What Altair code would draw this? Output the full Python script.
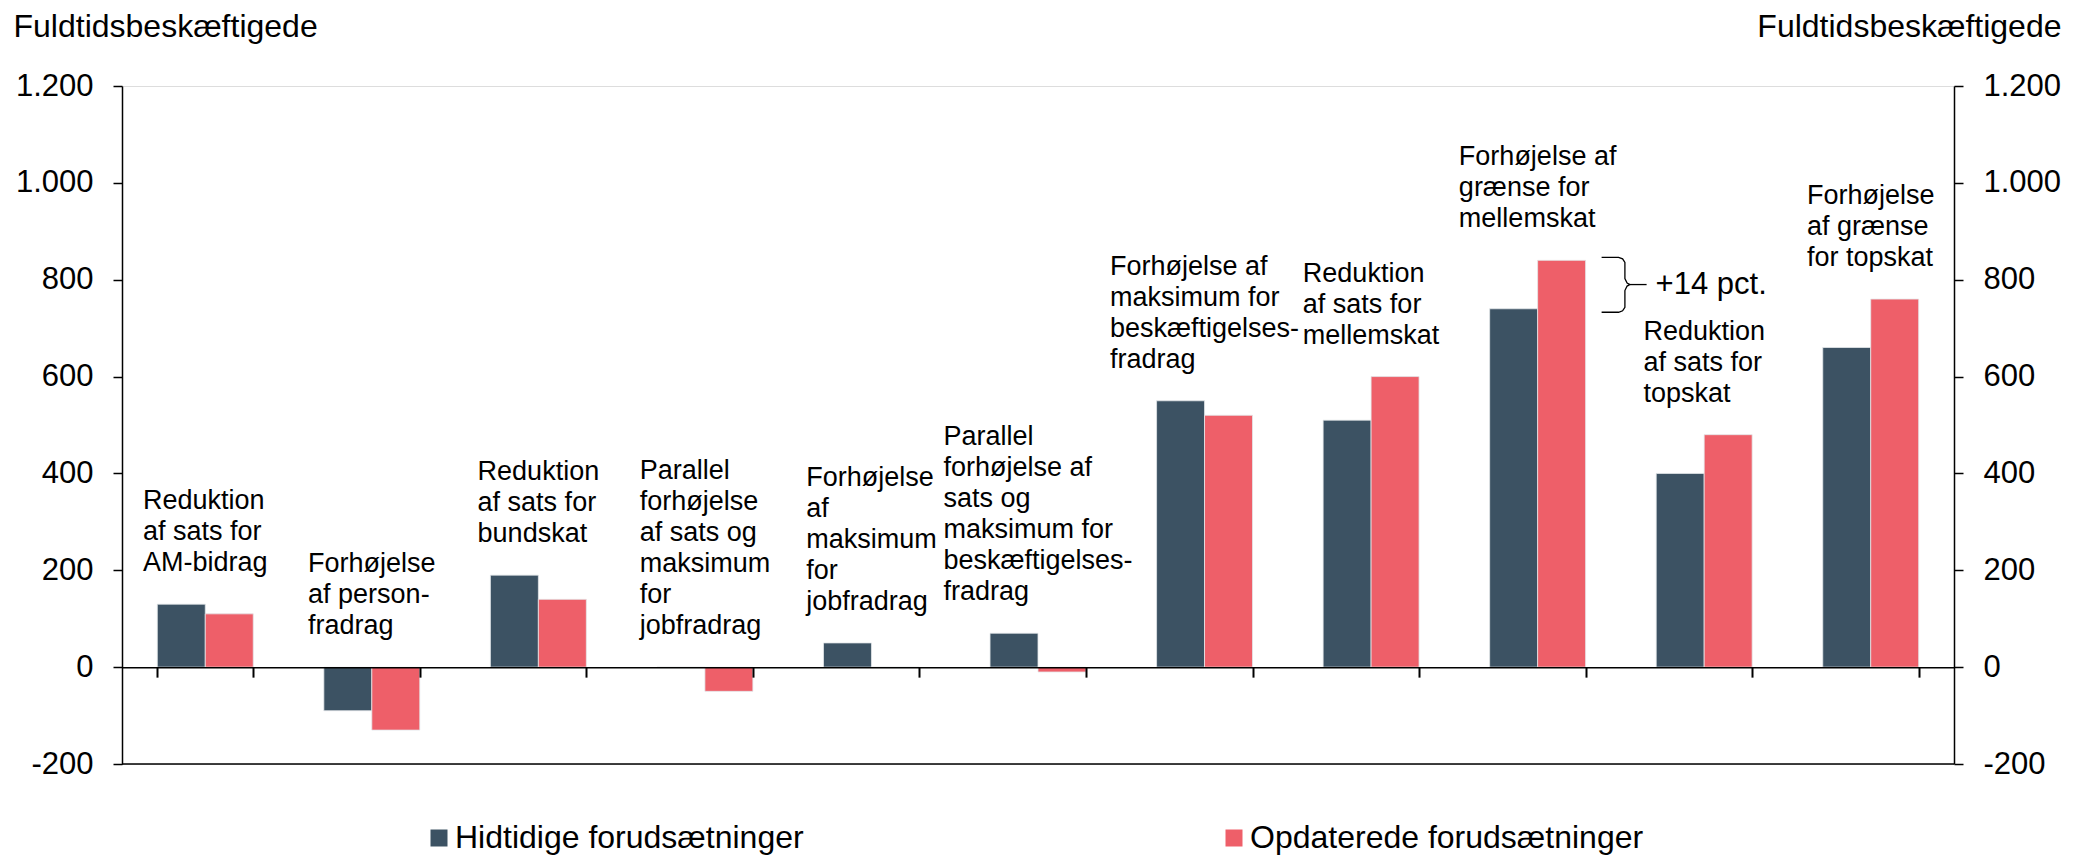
import altair as alt
import pandas as pd

# ---------------- data ----------------
categories = [
    "Reduktion af sats for AM-bidrag",
    "Forhøjelse af personfradrag",
    "Reduktion af sats for bundskat",
    "Parallel forhøjelse af sats og maksimum for jobfradrag",
    "Forhøjelse af maksimum for jobfradrag",
    "Parallel forhøjelse af sats og maksimum for beskæftigelsesfradrag",
    "Forhøjelse af maksimum for beskæftigelsesfradrag",
    "Reduktion af sats for mellemskat",
    "Forhøjelse af grænse for mellemskat",
    "Reduktion af sats for topskat",
    "Forhøjelse af grænse for topskat",
]
label_lines = [
    ["Reduktion", "af sats for", "AM-bidrag"],
    ["Forhøjelse", "af person-", "fradrag"],
    ["Reduktion", "af sats for", "bundskat"],
    ["Parallel", "forhøjelse", "af sats og", "maksimum", "for", "jobfradrag"],
    ["Forhøjelse", "af", "maksimum", "for", "jobfradrag"],
    ["Parallel", "forhøjelse af", "sats og", "maksimum for", "beskæftigelses-", "fradrag"],
    ["Forhøjelse af", "maksimum for", "beskæftigelses-", "fradrag"],
    ["Reduktion", "af sats for", "mellemskat"],
    ["Forhøjelse af", "grænse for", "mellemskat"],
    ["Reduktion", "af sats for", "topskat"],
    ["Forhøjelse", "af grænse", "for topskat"],
]
series_names = ["Hidtidige forudsætninger", "Opdaterede forudsætninger"]
hidtidige = [130, -90, 190, 0, 50, 70, 550, 510, 740, 400, 660]
opdaterede = [110, -130, 140, -50, 0, -10, 520, 600, 840, 480, 760]
y_ticks = [-200, 0, 200, 400, 600, 800, 1000, 1200]
axis_title = "Fuldtidsbeskæftigede"

# ---------------- layout / style ----------------
W, H = 1832, 678
PAD = {"left": 114, "top": 78, "right": 120, "bottom": 91}
Y_MIN, Y_MAX = -200, 1200
DARK, PINK = "#3c5263", "#ee5f69"
FONT = "Liberation Sans"
P_INNER = 0.424
ANN_FS, ANN_LH = 27, 31

n = len(categories)
step = W / n
px_per_unit = H / (Y_MAX - Y_MIN)


def ux(px):
    return px / step


def uy(px):
    return px / px_per_unit


# Arial/Liberation Sans advance widths (1/1000 em) to centre the label blocks
CW = {" ": 278, "-": 333, ".": 278, "A": 667, "M": 833, "F": 611, "R": 722, "P": 667,
      "a": 556, "b": 556, "c": 500, "d": 556, "e": 556, "f": 278, "g": 556, "h": 556,
      "i": 222, "j": 222, "k": 500, "l": 222, "m": 833, "n": 556, "o": 556, "p": 556,
      "r": 333, "s": 500, "t": 278, "u": 556, "v": 500, "æ": 889, "ø": 611}


def text_w(s, fs):
    return sum(CW.get(c, 556) for c in s) / 1000 * fs


rows = []
for c, h, o in zip(categories, hidtidige, opdaterede):
    rows.append({"cat": c, "series": series_names[0], "value": h})
    rows.append({"cat": c, "series": series_names[1], "value": o})
bars_df = pd.DataFrame(rows)

# label block: centred on its category, last line a fixed gap above the bars
ann_df = pd.DataFrame({
    "lines": label_lines,
    "lx": [i + 0.5 - ux(max(text_w(s, ANN_FS) for s in ls) / 2)
           for i, ls in enumerate(label_lines)],
    "ly": [max(0, h, o) + uy((len(ls) - 1) * ANN_LH)
           for h, o, ls in zip(hidtidige, opdaterede, label_lines)],
})

# bracket annotation on the largest updated bar
k = max(range(n), key=lambda i: opdaterede[i])
edge = k + 0.5 + (1 - P_INNER) / 2
top = opdaterede[k] + uy(3)
bot = hidtidige[k] - uy(3.5)
mid = (opdaterede[k] + hidtidige[k]) / 2
brace_pts = [(16, top), (33, top), (37, top - uy(1.5)), (39.3, top - uy(5)),
             (39.3, mid + uy(6)), (41.5, mid + uy(1.5)), (44.3, mid),
             (41.5, mid - uy(1.5)), (39.3, mid - uy(6)), (39.3, bot + uy(5)),
             (37, bot + uy(1.5)), (33, bot), (16, bot)]
brace_rows = [{"part": "brace", "o": j, "bx": edge + ux(px), "by": yv}
              for j, (px, yv) in enumerate(brace_pts)]
brace_rows += [{"part": "link", "o": 0, "bx": edge + ux(44.3), "by": mid},
               {"part": "link", "o": 1, "bx": edge + ux(61), "by": mid}]
brace_df = pd.DataFrame(brace_rows)
pct = round((opdaterede[k] / hidtidige[k] - 1) * 100)
pct_df = pd.DataFrame({"bx": [edge + ux(70)], "by": [mid], "t": [f"+{pct} pct."]})

# ---------------- scales ----------------
yscale = alt.Scale(domain=[Y_MIN, Y_MAX], nice=False, zero=False)
lin_x = alt.Scale(domain=[0, n], nice=False, zero=False)
label_expr = ("(datum.value < 0 ? '-' : '') + "
              "replace(format(abs(datum.value), ','), ',', '.')")
zero_offset = H * (Y_MAX - 0) / (Y_MAX - Y_MIN) - H

common_y_axis = dict(values=y_ticks, labelExpr=label_expr, grid=False, tickSize=9,
                     tickWidth=1.5, tickColor="black", domainColor="black",
                     domainWidth=1.5, labelPadding=20, labelFontSize=31,
                     labelColor="black", labelFont=FONT, title=axis_title,
                     titleAngle=0, titleBaseline="alphabetic", titleY=-50,
                     titleFontSize=32, titleFontWeight="normal", titleColor="black",
                     titleFont=FONT)

bars = alt.Chart(bars_df).mark_bar(stroke="#e3e7ea", strokeWidth=0.8).encode(
    x=alt.X("cat:N", sort=categories, title=None,
            scale=alt.Scale(paddingInner=P_INNER, paddingOuter=P_INNER / 2),
            axis=alt.Axis(labels=False, title=None, tickBand="extent", tickSize=10,
                          tickWidth=2, tickColor="black", domainColor="black",
                          domainWidth=1.5, offset=zero_offset, zindex=1, grid=False)),
    xOffset=alt.XOffset("series:N", sort=series_names,
                        scale=alt.Scale(paddingInner=0, paddingOuter=0)),
    y=alt.Y("value:Q", scale=yscale,
            axis=alt.Axis(orient="left", titleAlign="left", titleX=-109,
                          **common_y_axis)),
    color=alt.Color("series:N", sort=series_names,
                    scale=alt.Scale(domain=series_names, range=[DARK, PINK]),
                    legend=alt.Legend(orient="none", legendX=301, legendY=736,
                                      direction="horizontal", title=None,
                                      symbolType="square", symbolSize=289,
                                      symbolStrokeWidth=0, labelFontSize=32,
                                      labelFont=FONT, labelOffset=0,
                                      labelLimit=1000, columnPadding=414,
                                      labelColor="black")),
)

bottom_rule = alt.Chart(pd.DataFrame({"v": [Y_MIN]})).mark_rule(
    color="black", strokeWidth=1.5).encode(
    y=alt.Y("v:Q", scale=yscale,
            axis=alt.Axis(orient="right", titleAlign="right", titleX=107,
                          **common_y_axis)),
)

ann = alt.Chart(ann_df).mark_text(
    align="left", baseline="bottom", fontSize=ANN_FS, lineHeight=ANN_LH,
    dy=-27, color="black", font=FONT).encode(
    x=alt.X("lx:Q", scale=lin_x, axis=None),
    y=alt.Y("ly:Q", scale=yscale, axis=None),
    text="lines",
)

brace = alt.Chart(brace_df).mark_line(color="black", strokeWidth=1.3).encode(
    x=alt.X("bx:Q", scale=lin_x, axis=None),
    y=alt.Y("by:Q", scale=yscale, axis=None),
    detail="part:N",
    order="o:Q",
)

pct_text = alt.Chart(pct_df).mark_text(
    align="left", baseline="middle", fontSize=31, color="black", font=FONT).encode(
    x=alt.X("bx:Q", scale=lin_x, axis=None),
    y=alt.Y("by:Q", scale=yscale, axis=None),
    text="t:N",
)

chart = alt.layer(bars, bottom_rule, ann, brace, pct_text).resolve_scale(
    x="independent", y="independent"
).properties(
    width=W, height=H, padding=PAD,
    autosize=alt.AutoSizeParams(type="none"),
    background="white",
).configure_view(stroke=None).configure(font=FONT)

chart.save("out.html", embed_options={"renderer": "svg", "actions": False})
